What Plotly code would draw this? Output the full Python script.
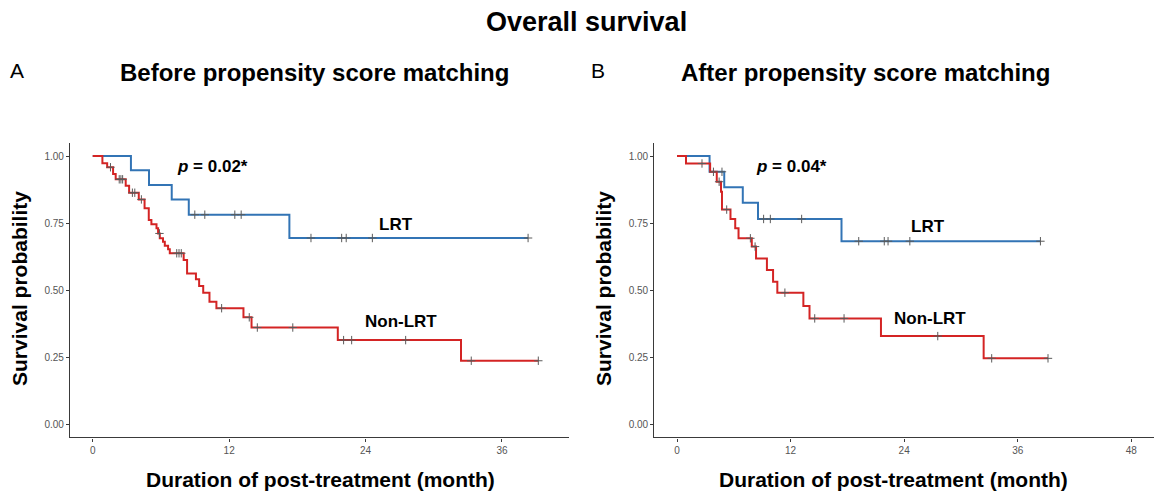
import numpy as np
import plotly.graph_objects as go

# ---------------- data ----------------
# Panel A: before propensity score matching
a_lrt_t = [0, 3.36, 4.95, 6.95, 8.45, 17.3, 38.3]
a_lrt_s = [1.0, 0.947, 0.892, 0.838, 0.781, 0.694, 0.694]
a_lrt_cens = [8.98, 9.86, 12.5, 13.06, 19.2, 21.9, 22.3, 24.6, 38.3]

a_non_t = [0, 0.85, 1.27, 1.79, 2.02, 2.9, 3.2, 4.05, 4.56, 4.93, 5.16, 5.61, 5.75,
           5.9, 6.18, 6.34, 6.63, 6.78, 8.0, 8.3, 9.08, 9.36, 9.72, 10.27, 10.88,
           13.26, 13.97, 21.56, 32.4, 39.2]
a_non_s = [1.0, 0.973, 0.958, 0.933, 0.913, 0.889, 0.863, 0.838, 0.805, 0.761, 0.745,
           0.73, 0.711, 0.693, 0.68, 0.665, 0.652, 0.637, 0.612, 0.562, 0.54, 0.515,
           0.49, 0.456, 0.432, 0.398, 0.36, 0.313, 0.236, 0.236]
a_non_cens = [1.56, 2.33, 2.48, 2.63, 3.49, 3.7, 4.28, 5.87, 7.39, 7.59, 7.79, 11.34,
              13.77, 14.48, 17.6, 22.07, 22.78, 27.53, 33.3, 39.2]

# Panel B: after propensity score matching
b_lrt_t = [0, 3.44, 4.99, 6.95, 8.56, 17.38, 38.4]
b_lrt_s = [1.0, 0.941, 0.883, 0.826, 0.765, 0.682, 0.682]
b_lrt_cens = [4.75, 9.15, 9.86, 13.17, 19.2, 21.9, 22.3, 24.6, 38.4]

b_non_t = [0, 0.95, 3.5, 4.2, 4.65, 4.75, 5.65, 6.15, 6.5, 7.9, 8.35, 9.5, 10.15,
           10.6, 13.35, 14.0, 21.55, 32.4, 39.2]
b_non_s = [1.0, 0.972, 0.941, 0.904, 0.867, 0.80, 0.765, 0.73, 0.693, 0.662, 0.618,
           0.575, 0.531, 0.49, 0.44, 0.394, 0.328, 0.245, 0.245]
b_non_cens = [2.64, 3.85, 4.45, 5.25, 7.75, 8.25, 11.4, 14.55, 17.65, 27.55, 33.25, 39.2]

y_ticks = [0, 0.25, 0.5, 0.75, 1.0]
y_tick_text = ["0.00", "0.25", "0.50", "0.75", "1.00"]
a_x_ticks = [0, 12, 24, 36]
b_x_ticks = [0, 12, 24, 36, 48]

BLUE = "#3274B5"
RED = "#D42424"
FONT = "Liberation Sans, Arial, sans-serif"
W, H = 1154, 492


def step_lookup(t_list, s_list, times):
    t = np.asarray(t_list)
    s = np.asarray(s_list)
    idx = np.searchsorted(t, np.asarray(times), side="right") - 1
    return s[idx]


fig = go.Figure()


def add_curve(t, s, cens, color, xa, ya):
    fig.add_trace(go.Scatter(x=t, y=s, mode="lines", line=dict(color=color, width=2, shape="hv"),
                             xaxis=xa, yaxis=ya, showlegend=False, hoverinfo="skip"))
    fig.add_trace(go.Scatter(x=cens, y=step_lookup(t, s, cens), mode="markers",
                             marker=dict(symbol="cross-thin", size=6,
                                         line=dict(color="#5a5a5a", width=1)),
                             xaxis=xa, yaxis=ya, showlegend=False, hoverinfo="skip"))


add_curve(a_lrt_t, a_lrt_s, a_lrt_cens, BLUE, "x", "y")
add_curve(a_non_t, a_non_s, a_non_cens, RED, "x", "y")
add_curve(b_lrt_t, b_lrt_s, b_lrt_cens, BLUE, "x2", "y2")
add_curve(b_non_t, b_non_s, b_non_cens, RED, "x2", "y2")

ydom = [1 - 437.4 / H, 1 - 142.6 / H]
axis_common = dict(showline=True, linecolor="#3a3a3a", linewidth=1.2, ticks="outside",
                   ticklen=3, tickcolor="#3a3a3a", tickwidth=1, showgrid=False,
                   zeroline=False, tickfont=dict(family=FONT, size=10, color="#555555"))

fig.update_layout(
    width=W, height=H,
    margin=dict(l=0, r=0, t=0, b=0),
    paper_bgcolor="white", plot_bgcolor="white",
    xaxis=dict(domain=[70 / W, 569 / W], range=[-2.0, 41.9], tickvals=a_x_ticks,
               anchor="y", **axis_common),
    yaxis=dict(domain=ydom, range=[-0.05, 1.05], tickvals=y_ticks, ticktext=y_tick_text,
               anchor="x", **axis_common),
    xaxis2=dict(domain=[654.3 / W, 1.0], range=[-2.4, 50.4], tickvals=b_x_ticks,
                anchor="y2", **axis_common),
    yaxis2=dict(domain=ydom, range=[-0.05, 1.05], tickvals=y_ticks, ticktext=y_tick_text,
                anchor="x2", **axis_common),
)


def ann(text, px, py, size, bold=True, angle=0):
    fig.add_annotation(text=f"<b>{text}</b>" if bold else text, x=px / W, y=1 - py / H,
                       xref="paper", yref="paper", showarrow=False, textangle=angle,
                       xanchor="center", yanchor="middle",
                       font=dict(family=FONT, size=size, color="black"))


ann("Overall survival", 586, 22, 27)
ann("A", 17, 71, 21, bold=False)
ann("Before propensity score matching", 315, 72, 24)
ann("B", 598, 71, 21, bold=False)
ann("After propensity score matching", 865, 72, 24)
ann("Survival probability", 19, 289, 21, angle=-90)
ann("Survival probability", 603, 289, 21, angle=-90)
ann("Duration of post-treatment (month)", 320, 479, 21)
ann("Duration of post-treatment (month)", 893, 479, 21)
ann("<i>p</i> = 0.02*", 212, 166, 17)
ann("<i>p</i> = 0.04*", 791, 166, 17)
ann("LRT", 396, 225, 17)
ann("Non-LRT", 401, 321, 17)
ann("LRT", 928, 226, 17)
ann("Non-LRT", 930, 318, 17)

fig.write_html("out.html", config={"displayModeBar": False},
               post_script="document.body.style.margin='0';document.body.style.padding='0';"
                           "document.body.style.overflow='hidden';")
